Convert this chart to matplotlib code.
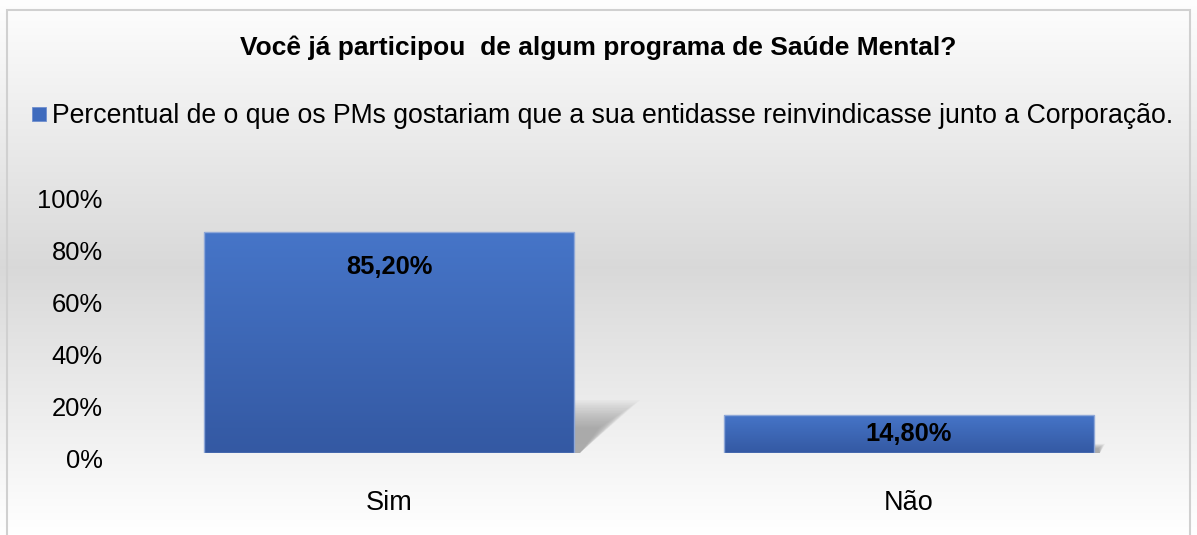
import numpy as np
import matplotlib
matplotlib.use("Agg")
import matplotlib.pyplot as plt
from matplotlib.patches import Rectangle, Polygon
from matplotlib.ticker import PercentFormatter
from matplotlib.transforms import ScaledTranslation

TITLE    = "Você já participou  de algum programa de Saúde Mental?"
LEGEND   = "Percentual de o que os PMs gostariam que a sua entidasse reinvindicasse junto a Corporação."
CATS     = ["Sim", "Não"]
VALUES   = [85.2, 14.8]
LABELS   = ["85,20%", "14,80%"]
YTICKS   = [0, 20, 40, 60, 80, 100]

plt.rcParams["font.family"] = ["Liberation Sans", "DejaVu Sans"]

W, H = 1197, 535
fig = plt.figure(figsize=(W / 100, H / 100), dpi=100)

# background gradient (white -> grey -> white)
bg = fig.add_axes([0, 0, 1, 1], zorder=0)
yy = np.linspace(0, 1, 300)
shade = np.interp(yy, [0, 0.5, 1.0], [0.995, 0.85, 1.0])
img = np.stack([shade, shade, shade], axis=-1)[:, None, :].repeat(2, axis=1)
bg.imshow(img, aspect="auto", extent=[0, 1, 0, 1], origin="upper")
bg.add_patch(Rectangle((7 / W, -0.1), (1190 - 7) / W, (H - 10) / H + 0.1,
                       fill=False, edgecolor="#d0d0d0", linewidth=1.5,
                       transform=bg.transAxes))
bg.set_xlim(0, 1)
bg.set_ylim(0, 1)
bg.axis("off")

# plot axes: x 129..1169, y 0% at 453, 100% at 194
ax = fig.add_axes([129 / W, (H - 453) / H, (1169 - 129) / W, (453 - 194) / H], zorder=1)
ax.patch.set_visible(False)
x = np.arange(len(CATS))
width = 0.71

grad = np.linspace(0, 1, 100)[:, None]
cmap = matplotlib.colors.LinearSegmentedColormap.from_list("bar", ["#3459a3", "#4675c8"])
for xi, v, lab in zip(x, VALUES, LABELS):
    x0, x1 = xi - width / 2, xi + width / 2
    # soft perspective shadow to the right of the bar
    n = 18
    for k in range(n):
        f = k / n
        top = v * 0.24 * (1 - 0.55 * f)
        reach = 0.0015 * v * (1 - 0.65 * f)
        sh = Polygon([(x1, 0), (x1, top), (x1 + reach, top),
                      (x1 + 0.012, 0)], closed=True, facecolor="#6a6a6a",
                     edgecolor="none", alpha=0.035, zorder=1)
        ax.add_patch(sh)
    im = ax.imshow(grad, cmap=cmap, aspect="auto", extent=[x0, x1, 0, v],
                   origin="lower", zorder=2)
    rect = Rectangle((x0, 0), width, v, facecolor="none", edgecolor="#8fa8d8",
                     linewidth=1, zorder=3)
    ax.add_patch(rect)
    im.set_clip_path(rect)
    ty = v - 13.5 if v > 50 else v - 7.5
    ax.text(xi, ty, lab, ha="center", va="center", fontsize=18.4, fontweight="bold",
            color="black", zorder=4)
ax.set_xlim(-0.5, len(CATS) - 0.5)
ax.set_ylim(0, 100)

ax.set_xticks(x)
ax.set_xticklabels(CATS, fontsize=19.5)
ax.set_yticks(YTICKS)
ax.yaxis.set_major_formatter(PercentFormatter(decimals=0))
ax.tick_params(axis="y", labelsize=18.4, length=0, pad=19)
ax.tick_params(axis="x", length=0, pad=27)
shift = ScaledTranslation(0, -5 / 100, fig.dpi_scale_trans)
for lbl in ax.get_yticklabels():
    lbl.set_transform(lbl.get_transform() + shift)
for s in ax.spines.values():
    s.set_visible(False)

fig.text(0.5, 1 - 48 / H, TITLE, ha="center", va="center", fontsize=19, fontweight="bold")
fig.patches.append(Rectangle((32 / W, 1 - 121 / H), 14 / W, 14 / H, transform=fig.transFigure,
                             facecolor="#3f6bbd", edgecolor="#6f8fcf", linewidth=0.6, figure=fig))
fig.text(52 / W, 1 - 116 / H, LEGEND, ha="left", va="center", fontsize=19.2)

fig.savefig("out.png", dpi=100)
